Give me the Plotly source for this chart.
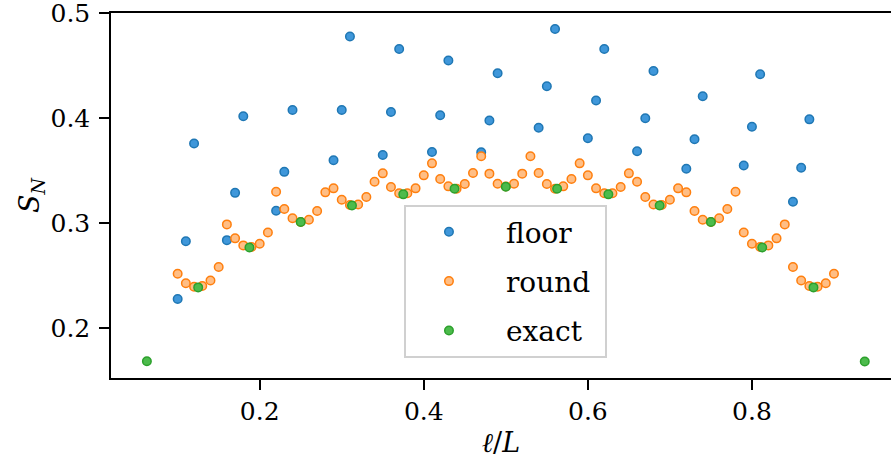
import plotly.graph_objects as go

# ---- data ----
round_x = [round(0.10 + 0.01 * i, 2) for i in range(81)]
round_y = [
    0.252, 0.243, 0.2396, 0.2403, 0.2455, 0.2584, 0.299, 0.2857, 0.279, 0.2775,
    0.2806, 0.2912, 0.330, 0.3136, 0.3048, 0.3012, 0.3034, 0.3117, 0.3295, 0.3333,
    0.3225, 0.3175, 0.318, 0.325, 0.3396, 0.3476, 0.3346, 0.3286, 0.3286, 0.3333,
    0.3457, 0.3571, 0.3422, 0.3352, 0.333, 0.3374, 0.348, 0.3638, 0.3473, 0.3377,
    0.335,
    0.3377, 0.3473, 0.3638, 0.348, 0.3374, 0.333, 0.3352, 0.3422, 0.3571, 0.3457,
    0.3333, 0.3286, 0.3286, 0.3346, 0.3476, 0.3396, 0.325, 0.318, 0.3175, 0.3225,
    0.3333, 0.3295, 0.3117, 0.3034, 0.3012, 0.3048, 0.3136, 0.330, 0.2912, 0.2806,
    0.2775, 0.279, 0.2857, 0.299, 0.2584, 0.2455, 0.2403, 0.2396, 0.243, 0.252,
]

floor_x = [0.10, 0.11, 0.12, 0.16, 0.17, 0.18, 0.22, 0.23, 0.24, 0.29, 0.30, 0.31,
           0.35, 0.36, 0.37, 0.41, 0.42, 0.43, 0.47, 0.48, 0.49, 0.54, 0.55, 0.56,
           0.60, 0.61, 0.62, 0.66, 0.67, 0.68, 0.72, 0.73, 0.74, 0.79, 0.80, 0.81,
           0.85, 0.86, 0.87]
floor_y = [0.228, 0.283, 0.376, 0.284, 0.329, 0.402, 0.312, 0.349, 0.408, 0.360, 0.408, 0.478,
           0.365, 0.406, 0.466, 0.368, 0.403, 0.455, 0.3676, 0.398, 0.443, 0.391, 0.4305, 0.485,
           0.381, 0.417, 0.466, 0.3686, 0.400, 0.445, 0.352, 0.380, 0.421, 0.355, 0.392, 0.442,
           0.3206, 0.353, 0.399]

exact_x = [1/16, 2/16, 3/16, 4/16, 5/16, 6/16, 7/16, 8/16, 9/16, 10/16, 11/16, 12/16,
           13/16, 14/16, 15/16]
exact_y = [0.1686, 0.239, 0.277, 0.3012, 0.317, 0.3276, 0.333, 0.3349, 0.333, 0.3276,
           0.317, 0.3012, 0.277, 0.239, 0.1684]

x_ticks = [0.2, 0.4, 0.6, 0.8]
y_ticks = [0.2, 0.3, 0.4, 0.5]
series_names = ["floor", "round", "exact"]

FONT = "DejaVu Serif"

fig = go.Figure()
styles = [
    (floor_x, floor_y, "#3f97da", "#1f77b4"),
    (round_x, round_y, "#ffbe85", "#ff7f0e"),
    (exact_x, exact_y, "#4cbb4c", "#2ca02c"),
]
for i, (name, (xs, ys, fill, edge)) in enumerate(zip(series_names, styles)):
    fig.add_trace(go.Scatter(
        x=xs, y=ys, mode="markers", name="\u2002" + name + "\u00a0", legendgroup=f"g{i}",
        marker=dict(size=8.5, color=fill, line=dict(color=edge, width=1.5)),
    ))

fig.update_layout(
    width=891, height=474,
    margin=dict(l=111, r=0, t=13, b=96),
    plot_bgcolor="white", paper_bgcolor="white",
    font=dict(family=FONT, size=25, color="black"),
    showlegend=True,
    legend=dict(
        x=0.3756, y=0.474, xanchor="left", yanchor="top",
        bgcolor="white", bordercolor="#d0d0d0", borderwidth=2,
        font=dict(family=FONT, size=28, color="black"),
        itemwidth=76, traceorder="grouped", tracegroupgap=10,
    ),
    xaxis=dict(
        range=[0.01875, 0.9695], tickvals=x_ticks, ticktext=[f"{v:.1f}" for v in x_ticks],
        showline=True, linecolor="black", linewidth=1.5, mirror=True,
        ticks="outside", ticklen=10, tickwidth=1.5, tickcolor="black",
        ticklabeloverflow="allow",
        showgrid=False, zeroline=False,
        title=dict(text="<i>ℓ</i>/<i>L</i>", font=dict(family=FONT, size=27), standoff=8),
    ),
    yaxis=dict(
        range=[0.1527, 0.5003], tickvals=y_ticks, ticktext=[f"{v:.1f}" for v in y_ticks],
        showline=True, linecolor="black", linewidth=1.5, mirror=False,
        ticks="outside", ticklen=10, tickwidth=1.5, tickcolor="black",
        ticklabelstandoff=4, ticklabeloverflow="allow",
        showgrid=False, zeroline=False,
        title=dict(text="<i>S</i><sub><i>N</i></sub>", font=dict(family=FONT, size=27), standoff=3),
    ),
)

fig.write_html("out.html")
